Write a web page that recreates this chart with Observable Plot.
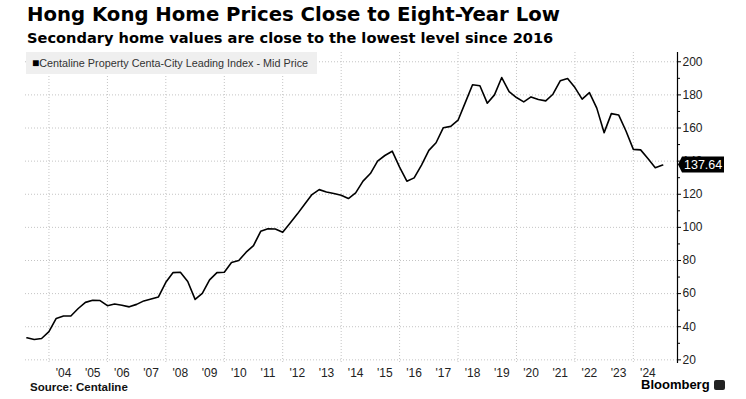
<!DOCTYPE html>
<html>
<head>
<meta charset="utf-8">
<script src="https://cdn.jsdelivr.net/npm/d3@7"></script>
<script src="https://cdn.jsdelivr.net/npm/@observablehq/plot@0.6"></script>
<style>
  html, body { margin: 0; padding: 0; background: #fff; }
  #wrap { position: relative; width: 746px; height: 399px; overflow: hidden; font-family: "Liberation Sans", Arial, sans-serif; }
  #title { position: absolute; left: 27px; top: 5px; font-family: "DejaVu Sans", sans-serif; font-weight: bold; font-size: 19.7px; color: #000; white-space: nowrap; line-height: 1; }
  #subtitle { position: absolute; left: 27px; top: 31px; font-family: "DejaVu Sans", sans-serif; font-weight: bold; font-size: 14.6px; color: #000; white-space: nowrap; line-height: 1; }
  #chart { position: absolute; left: 0; top: 47px; }
  #legend { position: absolute; left: 26px; top: 52px; width: 291px; height: 22px; background: #efefef; font-size: 10.8px; color: #333; line-height: 22px; padding-left: 6px; box-sizing: border-box; white-space: nowrap; }
  #legend .sq { font-size: 12px; color: #000; }
  #source { position: absolute; left: 30px; top: 382px; font-size: 11.5px; font-weight: bold; color: #111; white-space: nowrap; line-height: 1; }
  #logo { position: absolute; left: 641px; top: 378px; font-size: 13px; font-weight: bold; color: #000; white-space: nowrap; line-height: 1; }
  #logo .ico { display: inline-block; width: 11px; height: 10px; background: #222; border-radius: 2px; margin-left: 4px; vertical-align: -1px; }
</style>
</head>
<body>
<div id="wrap">
  <div id="title"></div>
  <div id="subtitle"></div>
  <div id="chart"></div>
  <div id="legend"></div>
  <div id="source"></div>
  <div id="logo"></div>
</div>
<script>
// ---- data ----
const titleText = "Hong Kong Home Prices Close to Eight-Year Low";
const subtitleText = "Secondary home values are close to the lowest level since 2016";
const seriesName = "Centaline Property Centa-City Leading Index - Mid Price";
const sourceText = "Source: Centaline";
const brandText = "Bloomberg";

const quarters = [
  "2003-04","2003-07","2003-10",
  "2004-01","2004-04","2004-07","2004-10",
  "2005-01","2005-04","2005-07","2005-10",
  "2006-01","2006-04","2006-07","2006-10",
  "2007-01","2007-04","2007-07","2007-10",
  "2008-01","2008-04","2008-07","2008-10",
  "2009-01","2009-04","2009-07","2009-10",
  "2010-01","2010-04","2010-07","2010-10",
  "2011-01","2011-04","2011-07","2011-10",
  "2012-01","2012-04","2012-07","2012-10",
  "2013-01","2013-04","2013-07","2013-10",
  "2014-01","2014-04","2014-07","2014-10",
  "2015-01","2015-04","2015-07","2015-10",
  "2016-01","2016-04","2016-07","2016-10",
  "2017-01","2017-04","2017-07","2017-10",
  "2018-01","2018-04","2018-07","2018-10",
  "2019-01","2019-04","2019-07","2019-10",
  "2020-01","2020-04","2020-07","2020-10",
  "2021-01","2021-04","2021-07","2021-10",
  "2022-01","2022-04","2022-07","2022-10",
  "2023-01","2023-04","2023-07","2023-10",
  "2024-01","2024-04","2024-07","2024-10",
  "2025-01"
];
const values = [
  33.3, 32.3, 32.9,
  37.0, 45.0, 46.5, 46.5,
  51.0, 54.7, 56.0, 55.8,
  52.7, 53.7, 53.0, 52.0,
  53.5, 55.6, 56.8, 58.0,
  66.8, 72.7, 72.9, 67.3,
  56.5, 60.2, 68.3, 72.7,
  72.9, 78.8, 80.0, 85.0,
  89.0, 97.6, 99.2, 99.0,
  97.0, 102.5, 108.0, 114.0,
  119.8, 122.8, 121.4, 120.4,
  119.4, 117.4, 120.8, 127.9,
  132.5, 140.0, 143.4, 146.0,
  136.4, 127.9, 129.9, 137.6,
  146.5, 151.1, 160.2, 161.0,
  164.7, 175.3, 186.1, 185.5,
  175.0, 180.0, 190.5, 182.0,
  178.4, 175.8, 178.8, 177.2,
  176.4, 180.4, 188.5, 189.9,
  184.4, 177.4, 181.4, 172.0,
  157.2, 168.7, 167.9, 158.2,
  147.1, 146.8, 141.6, 136.0,
  137.64
];
const lastValueLabel = "137.64";

const yTicks = [20, 40, 60, 80, 100, 120, 140, 160, 180, 200];
const yMinorTicks = [30, 50, 70, 90, 110, 130, 150, 170, 190];
const labelYears = [2004,2005,2006,2007,2008,2009,2010,2011,2012,2013,2014,2015,2016,2017,2018,2019,2020,2021,2022,2023,2024];
const yearLabels = ["'04","'05","'06","'07","'08","'09","'10","'11","'12","'13","'14","'15","'16","'17","'18","'19","'20","'21","'22","'23","'24"];
const gridYears = [2004,2006,2008,2010,2012,2014,2016,2018,2020,2022,2024];

// ---- build ----
document.getElementById("title").textContent = titleText;
document.getElementById("subtitle").textContent = subtitleText;
const leg = document.getElementById("legend");
const sq = document.createElement("span"); sq.className = "sq"; sq.textContent = "\u25A0";
leg.appendChild(sq); leg.appendChild(document.createTextNode(seriesName));
document.getElementById("source").textContent = sourceText;
document.getElementById("logo").innerHTML = brandText + '<span class="ico"></span>';

const parseQ = d3.utcParse("%Y-%m");
const data = quarters.map((q, i) => ({date: parseQ(q), value: values[i]}));
const labelDates = labelYears.map(y => new Date(Date.UTC(y, 6, 1)));
const gridDates = gridYears.map(y => new Date(Date.UTC(y, 0, 1)));
const lastValue = values[values.length - 1];

const font = "'Liberation Sans', Arial, sans-serif";

const valueTag = (index, scales, vals, dims) => {
  const y = scales.y(lastValue);
  const x0 = dims.width - dims.marginRight;
  const g = d3.create("svg:g");
  g.append("path")
    .attr("d", `M${x0 + 1},${y} L${x0 + 5},${y - 8} H${x0 + 47} V${y + 8} H${x0 + 5} Z`)
    .attr("fill", "#000");
  g.append("text")
    .attr("x", x0 + 7).attr("y", y).attr("dy", "0.36em")
    .attr("text-anchor", "start")
    .attr("fill", "#fff").attr("font-size", 12.5).attr("font-family", font)
    .text(lastValueLabel);
  return g.node();
};

const chart = Plot.plot({
  width: 746,
  height: 340,
  marginLeft: 25,
  marginRight: 69,
  marginTop: 5,
  marginBottom: 25,
  style: {fontFamily: font, fontSize: "12px", color: "#222", background: "transparent"},
  x: {type: "utc", domain: [new Date(Date.UTC(2003, 2, 14)), new Date(Date.UTC(2025, 6, 6))], label: null},
  y: {domain: [18.4, 205.6], label: null},
  marks: [
    Plot.gridY(yTicks, {stroke: "#c4c4c4", strokeOpacity: 1, strokeDasharray: "1,2"}),
    Plot.gridX(gridDates, {stroke: "#c4c4c4", strokeOpacity: 1, strokeDasharray: "1,2"}),
    Plot.axisX(labelDates, {tickSize: 0, tickPadding: 6, label: null, tickFormat: d => yearLabels[labelYears.indexOf(d.getUTCFullYear())], fill: "#222", fontSize: 12}),
    Plot.axisY(yMinorTicks, {anchor: "right", tickSize: 2, label: null, tickFormat: () => "", stroke: "#000"}),
    Plot.axisY(yTicks, {anchor: "right", tickSize: 3, tickPadding: 2, label: null, stroke: "#000", fill: "#222", fontSize: 12}),
    Plot.frame({anchor: "right", stroke: "#000", strokeWidth: 1.2}),
    Plot.line(data, {x: "date", y: "value", stroke: "#000", strokeWidth: 1.6}),
    valueTag
  ]
});
document.getElementById("chart").appendChild(chart);
</script>
</body>
</html>
